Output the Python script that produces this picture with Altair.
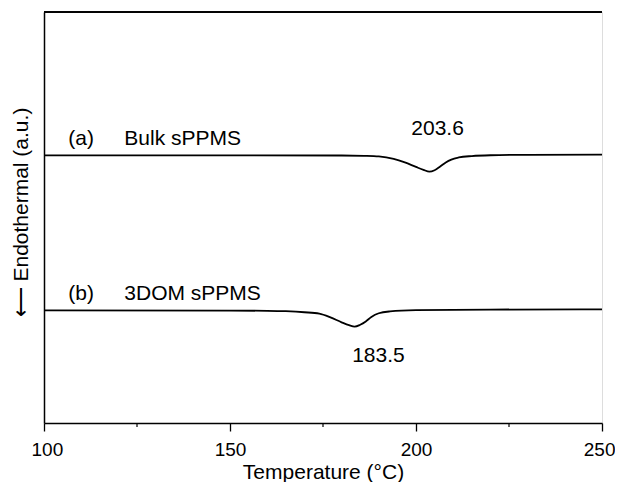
import altair as alt
import pandas as pd

# Curve (a) Bulk sPPMS
temp_a = [100, 150, 180, 186, 190, 194, 197, 200, 202, 203.6, 205, 206.5, 208, 209.5, 211.5, 215, 220, 230, 250]
sig_a = [65.1, 65.1, 65.08, 65.0, 64.85, 64.25, 63.4, 62.3, 61.6, 61.15, 61.5, 62.4, 63.4, 64.1, 64.6, 64.95, 65.15, 65.25, 65.3]

# Curve (b) 3DOM sPPMS
temp_b = [100, 150, 160, 165, 170, 174, 177, 180, 182, 183.5, 185, 186.5, 188, 190, 193, 200, 220, 250]
sig_b = [27.4, 27.35, 27.3, 27.2, 26.95, 26.6, 25.7, 24.5, 23.8, 23.45, 23.9, 24.7, 25.8, 26.7, 27.15, 27.45, 27.6, 27.65]

# Annotations
ann_text = ["(a)", "Bulk sPPMS", "203.6", "(b)", "3DOM sPPMS", "183.5"]
ann_x = [110, 121.6, 205.8, 110, 121.6, 189.9]
ann_y = [67.6, 67.6, 70.07, 29.9, 29.9, 14.84]
ann_align = ["center", "left", "center", "center", "left", "center"]

major_ticks = [100, 150, 200, 250]
minor_ticks = [125, 175, 225]

FONT = "Liberation Sans"

curves = pd.DataFrame(
    {"T": temp_a + temp_b, "S": sig_a + sig_b,
     "curve": ["a"] * len(temp_a) + ["b"] * len(temp_b)}
)
ann = pd.DataFrame({"T": ann_x, "S": ann_y, "label": ann_text, "align": ann_align})
minor = pd.DataFrame({"T": minor_ticks})

xscale = alt.Scale(domain=[100, 250], nice=False, zero=False)
yscale = alt.Scale(domain=[0, 100], nice=False, zero=False)

lines = alt.Chart(curves).mark_line(
    color="black", strokeWidth=1.8, interpolate="monotone"
).encode(
    x=alt.X("T:Q", scale=xscale,
            axis=alt.Axis(values=major_ticks, title="Temperature (°C)",
                          tickSize=8, tickColor="black", tickWidth=1.3,
                          domainColor="black", domainWidth=1.5,
                          labelFont=FONT, labelFontSize=19, labelColor="black",
                          labelPadding=9, labelFlush=True, labelFlushOffset=13,
                          titleFont=FONT, titleFontSize=21, titleColor="black",
                          titleFontWeight="normal", titleY=55, titleBaseline="alphabetic",
                          grid=False)),
    y=alt.Y("S:Q", scale=yscale,
            axis=alt.Axis(title="⟵  Endothermal (a.u.)", labels=False, ticks=False,
                          domainColor="black", domainWidth=1.5, grid=False,
                          titleFont=FONT, titleFontSize=21, titleColor="black",
                          titleFontWeight="normal", titleX=-23, titleY=200,
                          titleAlign="center", titleBaseline="middle", titleAngle=270)),
    detail="curve:N",
)

left_text = alt.Chart(ann[ann["align"] == "left"]).mark_text(
    font=FONT, fontSize=21, color="black", align="left", baseline="alphabetic"
).encode(x=alt.X("T:Q", scale=xscale), y=alt.Y("S:Q", scale=yscale), text="label:N")

center_text = alt.Chart(ann[ann["align"] == "center"]).mark_text(
    font=FONT, fontSize=21, color="black", align="center", baseline="alphabetic"
).encode(x=alt.X("T:Q", scale=xscale), y=alt.Y("S:Q", scale=yscale), text="label:N")

minor_rules = alt.Chart(minor).mark_rule(color="black", strokeWidth=1.2).encode(
    x=alt.X("T:Q", scale=xscale), y=alt.value(411), y2=alt.value(415)
)

top_border = alt.Chart(minor).mark_rule(color="black", strokeWidth=1.5).encode(
    x=alt.value(0), x2=alt.value(558), y=alt.value(0)
)

chart = alt.layer(lines, left_text, center_text, minor_rules, top_border).properties(
    width=558, height=411,
    autosize=alt.AutoSizeParams(type="none"),
    padding={"left": 36, "top": 4, "right": 13, "bottom": 59},
).configure_view(stroke="black", strokeWidth=1.5).configure(background="white")

chart.save("out.html", embed_options={"renderer": "svg", "actions": False})
